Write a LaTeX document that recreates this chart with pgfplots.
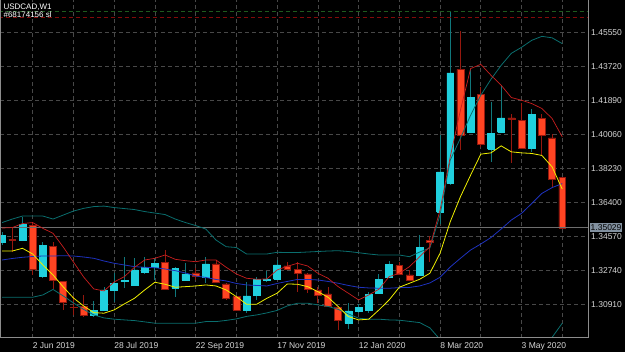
\documentclass[border=0pt]{standalone}
\usepackage{pgfplots}
\pgfplotsset{compat=1.18}
\usepackage{pgfplotstable}
\usepackage{fontspec}
\setmainfont{Liberation Sans}

\definecolor{bullbody}{RGB}{32,208,222}
\definecolor{bullwick}{RGB}{16,120,124}
\definecolor{bearbody}{RGB}{255,68,34}
\definecolor{bearwick}{RGB}{150,24,14}
\definecolor{bband}{RGB}{10,110,110}
\definecolor{midblue}{RGB}{30,50,190}
\definecolor{maRed}{RGB}{200,30,30}
\definecolor{maYel}{RGB}{240,240,0}
\definecolor{gridc}{RGB}{72,72,72}
\definecolor{framec}{RGB}{140,140,140}
\definecolor{txt}{RGB}{215,215,215}
\definecolor{pricebox}{RGB}{130,145,160}

\pgfplotstableread{
i O H L C
0 1.34226 1.34802 1.34102 1.34640
1 1.34390 1.35017 1.33725 1.34380
2 1.34371 1.35625 1.34317 1.35216
3 1.35179 1.35356 1.32487 1.32794
4 1.32396 1.34280 1.32326 1.34102
5 1.34048 1.34291 1.31734 1.32181
6 1.32127 1.32165 1.30604 1.30997
7 1.30755 1.31330 1.30308 1.30745
8 1.30781 1.31411 1.30243 1.30297
9 1.30334 1.31104 1.30227 1.30566
10 1.30566 1.31858 1.30523 1.31680
11 1.31642 1.32611 1.31050 1.32019
12 1.32127 1.33456 1.31788 1.32181
13 1.31949 1.33402 1.31895 1.32757
14 1.32633 1.33440 1.32541 1.32880
15 1.32880 1.33429 1.32218 1.33117
16 1.33171 1.33833 1.31680 1.31718
17 1.31772 1.32891 1.31319 1.32827
18 1.32218 1.33117 1.32181 1.32541
19 1.32595 1.32864 1.32218 1.32396
20 1.32342 1.33472 1.32073 1.33080
21 1.33080 1.33295 1.32030 1.32073
22 1.32003 1.32030 1.31142 1.31233
23 1.31319 1.31357 1.30550 1.30604
24 1.30604 1.32127 1.30426 1.31357
25 1.31373 1.32396 1.31142 1.32256
26 1.32218 1.32719 1.32127 1.32240
27 1.32256 1.33295 1.32218 1.33026
28 1.32972 1.33203 1.32757 1.32794
29 1.32794 1.33203 1.31589 1.32579
30 1.32541 1.32595 1.31502 1.31734
31 1.31680 1.31842 1.30997 1.31411
32 1.31465 1.31826 1.30765 1.30819
33 1.30749 1.30792 1.29527 1.30028
34 1.29888 1.30997 1.29565 1.30550
35 1.30512 1.30927 1.30426 1.30727
36 1.30604 1.31589 1.30426 1.31449
37 1.31502 1.32541 1.31465 1.32256
38 1.32342 1.33257 1.32299 1.33063
39 1.32988 1.33203 1.32487 1.32525
40 1.32487 1.32757 1.32165 1.32218
41 1.32471 1.34640 1.32434 1.33957
42 1.34371 1.34587 1.33187 1.34237
43 1.35895 1.40023 1.35232 1.38047
44 1.37455 1.46713 1.37332 1.43376
45 1.43559 1.45621 1.39215 1.40023
46 1.40168 1.43613 1.40130 1.42068
47 1.42213 1.42606 1.39393 1.39522
48 1.39269 1.41815 1.38586 1.40114
49 1.40168 1.42660 1.40130 1.40954
50 1.40954 1.41153 1.38532 1.40900
51 1.40830 1.41761 1.39323 1.39339
52 1.39339 1.41422 1.39124 1.41137
53 1.40922 1.41153 1.38893 1.40039
54 1.39877 1.40060 1.37240 1.37655
55 1.37746 1.37790 1.35029 1.35029
}\ohlc

\pgfplotstableread{
i up mid lo red yel
0 1.35313 1.33295 1.31287 1.35017 1.33779
1 1.35502 1.33376 1.31287 1.35044 1.33779
2 1.35663 1.33440 1.31287 1.35259 1.33925
3 1.35663 1.33483 1.31287 1.35313 1.33618
4 1.35663 1.33510 1.31411 1.35001 1.33026
5 1.35502 1.33510 1.31707 1.34732 1.32487
6 1.35717 1.33526 1.31357 1.33995 1.31842
7 1.35932 1.33510 1.30980 1.33187 1.31249
8 1.36078 1.33456 1.30631 1.32380 1.30819
9 1.36174 1.33386 1.30334 1.31734 1.30458
10 1.36201 1.33241 1.30173 1.31627 1.30426
11 1.36121 1.33117 1.30103 1.32111 1.30604
12 1.36067 1.33026 1.30065 1.32396 1.30927
13 1.36013 1.32935 1.30028 1.32902 1.31233
14 1.35905 1.32902 1.29959 1.33295 1.31680
15 1.35825 1.32880 1.29888 1.33386 1.32095
16 1.35744 1.32811 1.29888 1.33564 1.31987
17 1.35502 1.32719 1.29888 1.33332 1.31826
18 1.35313 1.32595 1.29888 1.33257 1.31858
19 1.35152 1.32435 1.29888 1.33203 1.31895
20 1.34963 1.32354 1.29974 1.33295 1.31949
21 1.34371 1.32246 1.29974 1.33295 1.31895
22 1.34011 1.32165 1.30038 1.32902 1.31680
23 1.33968 1.32030 1.30119 1.32541 1.31319
24 1.33618 1.31949 1.30254 1.32310 1.30910
25 1.33618 1.31922 1.30334 1.32256 1.30910
26 1.33618 1.31895 1.30443 1.32272 1.31233
27 1.33709 1.32030 1.30577 1.32757 1.31502
28 1.33698 1.32139 1.30819 1.32956 1.32003
29 1.33698 1.32246 1.30964 1.33117 1.31987
30 1.33725 1.32246 1.30964 1.32972 1.31858
31 1.33752 1.32218 1.30873 1.32579 1.31589
32 1.33779 1.32139 1.30792 1.32310 1.31287
33 1.33795 1.32041 1.30631 1.31858 1.30781
34 1.33752 1.31922 1.30389 1.31502 1.30243
35 1.33688 1.31825 1.30157 1.31142 1.30065
36 1.33618 1.31788 1.30103 1.31411 1.30103
37 1.33564 1.31772 1.30103 1.31718 1.30604
38 1.33564 1.31772 1.30065 1.32396 1.31142
39 1.33564 1.31805 1.30049 1.32579 1.31826
40 1.33472 1.31815 1.29985 1.32935 1.32041
41 1.33725 1.31895 1.29920 1.33472 1.32256
42 1.33941 1.32057 1.29635 1.34011 1.32579
43 1.35717 1.32364 1.29010 1.35986 1.33655
44 1.38677 1.32918 1.27159 1.38855 1.35356
45 1.39861 1.33386 1.26911 1.41368 1.36702
46 1.41099 1.33833 1.26567 1.43613 1.37870
47 1.42176 1.34156 1.26136 1.43844 1.39000
48 1.43037 1.34507 1.25975 1.43252 1.39070
49 1.43790 1.34963 1.26136 1.42714 1.39447
50 1.44436 1.35449 1.26459 1.42052 1.39124
51 1.44759 1.35808 1.26857 1.41907 1.39070
52 1.45136 1.36336 1.27536 1.41729 1.39038
53 1.45351 1.36885 1.28418 1.41460 1.38930
54 1.45271 1.37197 1.29123 1.40922 1.38317
55 1.44958 1.37412 1.29888 1.39931 1.37116
}\lines

\pgfplotsset{
  bullstyle/.style={fill=bullbody, draw=bullbody, line width=0.5pt, mark=none},
  bearstyle/.style={fill=bearbody, draw=bearwick, line width=0.6pt, mark=none},
  bullwickstyle/.style={draw=bullwick, line width=0.9pt, mark=none},
  bearwickstyle/.style={draw=bearwick, line width=0.9pt, mark=none},
}

\begin{document}
\begin{tikzpicture}
\fill[black] (0,0) rectangle (625pt,352pt);
\begin{axis}[
  name=ax,
  at={(0pt,14.3pt)}, anchor=south west,
  scale only axis, width=588pt, height=337.7pt,
  xmin=-0.17, xmax=57.53, ymin=1.29096, ymax=1.47289,
  axis line style={draw=none},
  tick style={draw=none},
  /pgf/number format/assume math mode=true,
  xtick={3,11,19,27,35,43,51},
  xticklabels={2 Jun 2019,28 Jul 2019,22 Sep 2019,17 Nov 2019,12 Jan 2020,8 Mar 2020,3 May 2020},
  extra x ticks={7,15,23,31,39,47,55},
  extra x tick labels={},
  extra x tick style={grid=major},
  ytick={1.30910,1.32740,1.34570,1.36400,1.38230,1.40060,1.41890,1.43720,1.45550},
  yticklabels={1.30910,1.32740,1.34570,1.36400,1.38230,1.40060,1.41890,1.43720,1.45550},
  yticklabel pos=right,
  grid=major,
  major grid style={draw=gridc, dash pattern=on 4pt off 3pt, line width=0.6pt},
  xticklabel style={anchor=north west, inner sep=0pt, yshift=-4pt, font=\fontsize{8.5}{10}\selectfont, text=txt},
  yticklabel style={anchor=west, inner sep=0pt, xshift=3pt, font=\fontsize{8.5}{10}\selectfont, text=txt},
]
% candles
\pgfplotsinvokeforeach{0,...,55}{
  \pgfplotstablegetelem{#1}{O}\of\ohlc \let\vO\pgfplotsretval
  \pgfplotstablegetelem{#1}{H}\of\ohlc \let\vH\pgfplotsretval
  \pgfplotstablegetelem{#1}{L}\of\ohlc \let\vL\pgfplotsretval
  \pgfplotstablegetelem{#1}{C}\of\ohlc \let\vC\pgfplotsretval
  \pgfmathsetmacro\xl{#1-0.34}
  \pgfmathsetmacro\xr{#1+0.34}
  \pgfmathparse{\vC>\vO ? 1 : 0}
  \ifdim\pgfmathresult pt>0.5pt
    \def\bs{bullstyle}\def\ws{bullwickstyle}
  \else
    \def\bs{bearstyle}\def\ws{bearwickstyle}
  \fi
  \edef\temp{\noexpand\addplot[\ws] coordinates {(#1,\vL) (#1,\vH)};
    \noexpand\addplot[\bs] coordinates {(\xl,\vO) (\xr,\vO) (\xr,\vC) (\xl,\vC) (\xl,\vO)};}
  \temp
}
% reference lines
\addplot[draw={rgb,255:red,110;green,110;blue,110}, line width=0.7pt, mark=none] coordinates {(-1,1.35029) (58,1.35029)};
\addplot[draw={rgb,255:red,30;green,90;blue,30}, line width=0.6pt, dash pattern=on 4pt off 3pt, mark=none] coordinates {(-1,1.46681) (58,1.46681)};
\addplot[draw={rgb,255:red,130;green,10;blue,10}, line width=1.6pt, dash pattern=on 4pt off 3pt, mark=none] coordinates {(-1,1.46358) (58,1.46358)};
% indicators
\addplot[bband, line width=0.8pt, mark=none] table[x=i, y=up] {\lines};
\addplot[bband, line width=0.8pt, mark=none] table[x=i, y=lo] {\lines};
\addplot[midblue, line width=0.8pt, mark=none] table[x=i, y=mid] {\lines};
\addplot[maRed, line width=0.7pt, mark=none] table[x=i, y=red] {\lines};
\addplot[maYel, line width=0.8pt, mark=none] table[x=i, y=yel] {\lines};
\coordinate (pl) at (axis cs:57.53,1.35029);
\end{axis}
\draw[framec, line width=0.8pt] (ax.north west) -- (ax.south west) -- (ax.south east) -- (ax.north east);
\node[anchor=west, fill=pricebox, text=black, inner sep=1pt, minimum height=9pt, font=\fontsize{8.5}{10}\selectfont, xshift=1.5pt] at (pl) {1.35029};
\node[anchor=base west, inner sep=0pt, text=white, font=\fontsize{8}{9}\selectfont] at (3pt,343pt) {USDCAD,W1};
\node[anchor=base west, inner sep=0pt, text=white, font=\fontsize{8}{9}\selectfont] at (3pt,334.5pt) {\#68174156 sl};
\end{tikzpicture}
\end{document}
